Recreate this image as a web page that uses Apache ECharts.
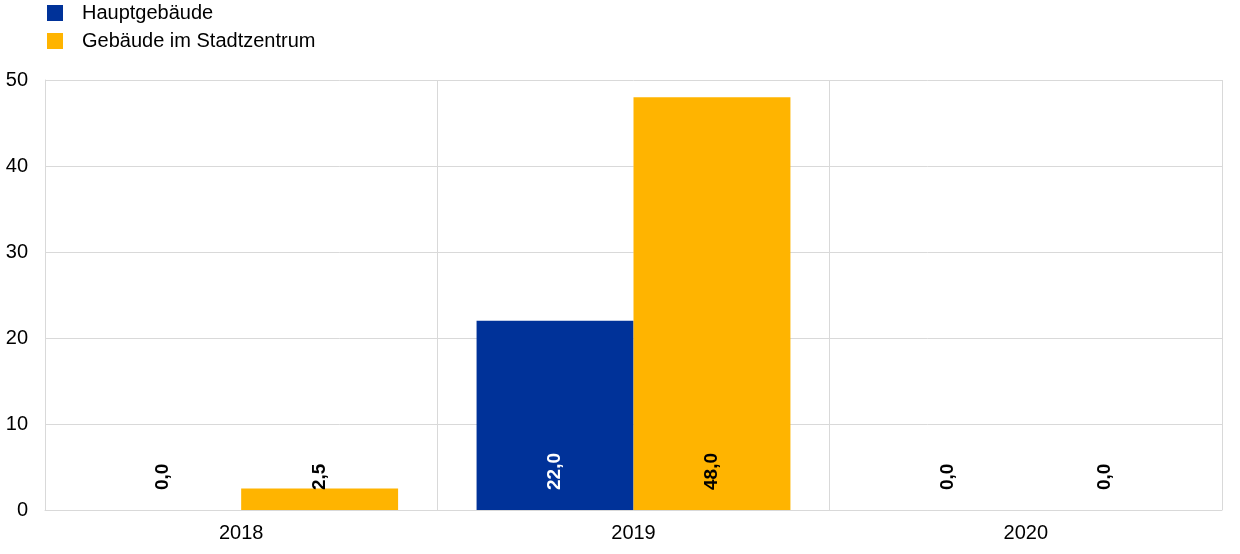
<!DOCTYPE html>
<html><head><meta charset="utf-8">
<script src="https://cdn.jsdelivr.net/npm/echarts@6/dist/echarts.min.js"></script>
<style>html,body{margin:0;padding:0;background:#fff}#c{width:1240px;height:554px}</style>
</head><body><div id="c"></div>
<script>
const categories = ['2018', '2019', '2020'];
const seriesNames = ['Hauptgebäude', 'Gebäude im Stadtzentrum'];
const hauptgebaeude = [0.0, 22.0, 0.0];
const stadtzentrum = [2.5, 48.0, 0.0];
const yTicks = [0, 10, 20, 30, 40, 50];

const fmt = v => v.toFixed(1).replace('.', ',');
const font = 'Liberation Sans, Arial, sans-serif';

function mkData(vals, nonzeroColor) {
  return vals.map(v => ({ value: v, label: { color: v === 0 ? '#000' : nonzeroColor } }));
}
const labelBase = {
  show: true, position: 'insideBottom', distance: 20, rotate: 90,
  align: 'left', verticalAlign: 'middle',
  fontFamily: font, fontSize: 19, fontWeight: 'bold',
  formatter: p => fmt(p.value)
};

const chart = echarts.init(document.getElementById('c'));
chart.setOption({
  animation: false,
  color: ['#003299', '#FFB400'],
  legend: {
    orient: 'vertical', left: 47, top: 3, padding: 0, itemWidth: 16, itemHeight: 16, itemGap: 8,
    icon: 'rect',
    textStyle: { fontFamily: font, fontSize: 20, color: '#000', padding: [0, 0, 0, 14] },
    data: seriesNames
  },
  grid: { left: 45, right: 18, top: 80, bottom: 44 },
  xAxis: {
    type: 'category', data: categories,
    axisLine: { show: true, lineStyle: { color: '#d9d9d9' } },
    axisTick: { show: false },
    axisLabel: { fontFamily: font, fontSize: 20, color: '#000', margin: 13 },
    splitLine: { show: true, lineStyle: { color: '#d9d9d9' } }
  },
  yAxis: {
    type: 'value', min: yTicks[0], max: yTicks[yTicks.length - 1], interval: 10,
    axisLine: { show: true, lineStyle: { color: '#d9d9d9' } },
    axisTick: { show: false },
    axisLabel: { fontFamily: font, fontSize: 20, color: '#000', margin: 17 },
    splitLine: { show: true, lineStyle: { color: '#d9d9d9' } }
  },
  series: [
    { name: seriesNames[0], type: 'bar', barGap: '0%', barCategoryGap: '20%',
      data: mkData(hauptgebaeude, '#fff'), label: labelBase },
    { name: seriesNames[1], type: 'bar', barGap: '0%', barCategoryGap: '20%',
      data: mkData(stadtzentrum, '#000'), label: labelBase }
  ]
});
</script></body></html>
